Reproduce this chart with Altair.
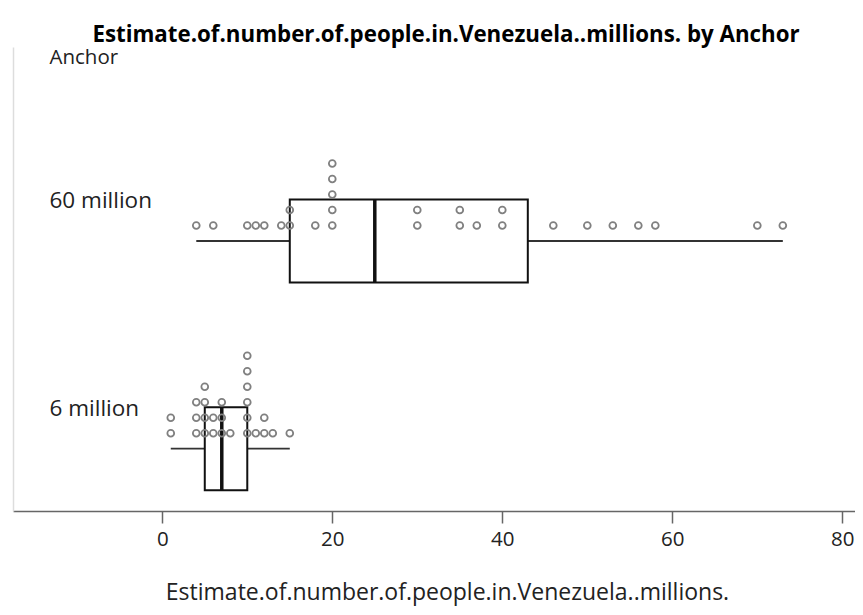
import altair as alt
import pandas as pd

# ---- data ----
anchors = ["6 million", "60 million"]
est_6_million = [1, 1, 4, 4, 4, 5, 5, 5, 5, 6, 6, 7, 7, 7, 8,
                 10, 10, 10, 10, 10, 10, 11, 12, 12, 13, 15]
est_60_million = [4, 6, 10, 11, 12, 14, 15, 15, 18, 20, 20, 20, 20, 20,
                  30, 30, 35, 35, 37, 40, 40, 46, 50, 53, 56, 58, 70, 73]
x_ticks = [0, 20, 40, 60, 80]

FONT = "Open Sans"
STEP = 0.0746   # stacking step of dots (in group units)
HALF = 0.2      # half height of box (in group units)


def median(s):
    n = len(s)
    return s[n // 2] if n % 2 else (s[n // 2 - 1] + s[n // 2]) / 2


def fivenum(v):
    s = sorted(v)
    n = len(s)
    lower = s[:(n + 1) // 2]
    upper = s[n // 2:]
    return s[0], median(lower), median(s), median(upper), s[-1]


groups = {"6 million": est_6_million, "60 million": est_60_million}

dot_rows, box_rows = [], []
for gi, name in enumerate(anchors):
    vals = groups[name]
    seen = {}
    for v in vals:
        k = seen.get(v, 0)
        seen[v] = k + 1
        dot_rows.append({"Anchor": name, "value": v, "y": gi + (k + 1) * STEP})
    mn, q1, md, q3, mx = fivenum(vals)
    box_rows.append({"Anchor": name, "g": gi, "min": mn, "q1": q1, "median": md,
                     "q3": q3, "max": mx, "lo": gi - HALF, "hi": gi + HALF})

dots = pd.DataFrame(dot_rows)
boxes = pd.DataFrame(box_rows)

xscale = alt.Scale(domain=[-17.56, 81.49], nice=False, zero=False)
yscale = alt.Scale(domain=[-0.300, 1.934], nice=False, zero=False)

label_expr = "datum.value == 1 ? '%s' : '%s'" % (anchors[1], anchors[0])

xaxis = alt.Axis(values=x_ticks, grid=False, domainColor="#666666", domainWidth=1.5,
                 tickColor="#666666", tickWidth=1.5, tickSize=12,
                 labelFont=FONT, labelFontSize=20.5, labelColor="#222222", labelPadding=6,
                 title="Estimate.of.number.of.people.in.Venezuela..millions.",
                 titleFont=FONT, titleFontSize=23, titleFontWeight="normal",
                 titleColor="#222222", titlePadding=32, titleX=434, titleAnchor="start",
                 titleAlign="center")
yaxis = alt.Axis(values=[0, 1], labelExpr=label_expr, grid=False, ticks=False, tickSize=0,
                 domain=True, domainColor="#dddddd", domainWidth=1.5,
                 labelAlign="left", labelBaseline="middle", labelPadding=-36,
                 labelOffset=-40, labelFont=FONT, labelFontSize=22.5, labelColor="#222222",
                 title="Anchor", titleAngle=0, titleAlign="left", titleBaseline="middle",
                 titleX=36, titleY=10.5, titleFont=FONT, titleFontSize=20.5,
                 titleFontWeight="normal", titleColor="#222222")

base_box = alt.Chart(boxes)

whisk_lo = base_box.mark_rule(color="#333333", strokeWidth=1.8).encode(
    x=alt.X("min:Q", scale=xscale, axis=xaxis), x2="q1:Q",
    y=alt.Y("g:Q", scale=yscale, axis=yaxis))
whisk_hi = base_box.mark_rule(color="#333333", strokeWidth=1.8).encode(
    x=alt.X("q3:Q", scale=xscale), x2="max:Q", y=alt.Y("g:Q", scale=yscale))
box = base_box.mark_rect(fill="white", fillOpacity=0, stroke="#111111", strokeWidth=2).encode(
    x=alt.X("q1:Q", scale=xscale), x2="q3:Q",
    y=alt.Y("lo:Q", scale=yscale), y2="hi:Q")
med = base_box.mark_rule(color="#111111", strokeWidth=3.5).encode(
    x=alt.X("median:Q", scale=xscale),
    y=alt.Y("lo:Q", scale=yscale), y2="hi:Q")
pts = alt.Chart(dots).mark_point(shape="circle", filled=False, size=46, strokeWidth=1.8,
                                 color="#808080", opacity=1).encode(
    x=alt.X("value:Q", scale=xscale), y=alt.Y("y:Q", scale=yscale))

chart = alt.layer(whisk_lo, whisk_hi, box, med, pts).properties(
    width=842, height=464,
    padding={"left": 5, "top": 15, "right": 0, "bottom": 5},
    title=alt.TitleParams("Estimate.of.number.of.people.in.Venezuela..millions. by Anchor",
                          font=FONT, fontSize=22.3, fontWeight="bold", color="#000000",
                          anchor="middle", dx=12, offset=1),
).configure_view(stroke=None)

chart.save("out.html", embed_options={"renderer": "svg", "actions": False})
